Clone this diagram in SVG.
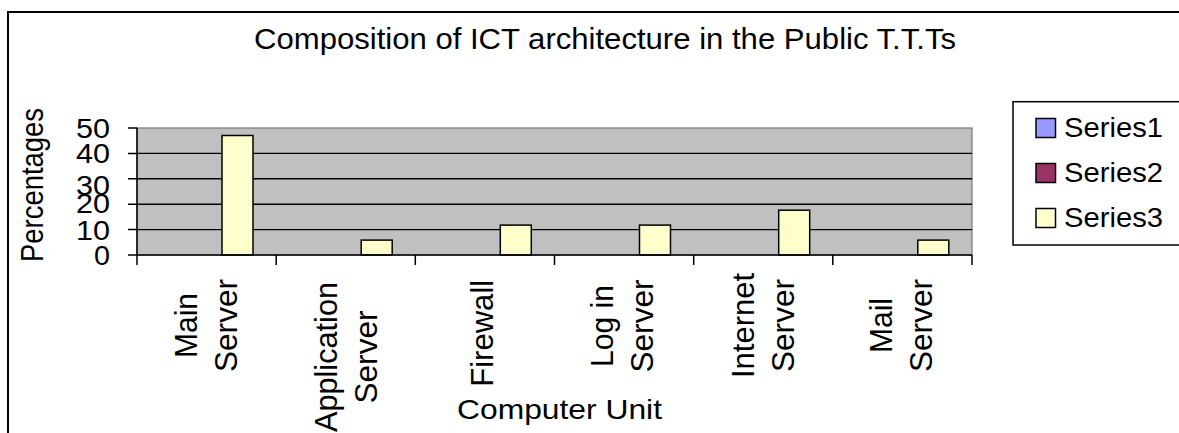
<svg xmlns="http://www.w3.org/2000/svg" width="1179" height="433" viewBox="0 0 1179 433">
<style>
text{font-family:"Liberation Sans",Arial,sans-serif;fill:#000}
.h{font-size:27px}
.r{font-size:32px;text-anchor:middle}
.grid{stroke:#000;stroke-width:1.4}
.tick{stroke:#000;stroke-width:1.5}
.bar{fill:#FFFFCC;stroke:#000;stroke-width:1.5}
.sw{stroke:#000;stroke-width:1.5}
</style>
<rect x="0" y="0" width="1179" height="433" fill="#fff"/>
<g id="frame"><path d="M1190,12 H8 V445" fill="none" stroke="#000" stroke-width="2"/></g>
<g id="title"><text x="605" y="49" text-anchor="middle" style="font-size:29px" textLength="702" lengthAdjust="spacingAndGlyphs">Composition of ICT architecture in the Public T.T.Ts</text></g>
<g id="plot">
<rect x="137" y="128" width="835" height="127" fill="#C0C0C0" stroke="#808080" stroke-width="1.3"/>
<line class="grid" x1="137" y1="153.4" x2="972" y2="153.4"/>
<line class="grid" x1="137" y1="178.8" x2="972" y2="178.8"/>
<line class="grid" x1="137" y1="204.2" x2="972" y2="204.2"/>
<line class="grid" x1="137" y1="229.6" x2="972" y2="229.6"/>
</g>
<g id="bars">
<rect class="bar" x="222" y="135.5" width="31" height="119.5"/>
<rect class="bar" x="361.2" y="240.1" width="31" height="14.9"/>
<rect class="bar" x="500.3" y="225.1" width="31" height="29.9"/>
<rect class="bar" x="639.5" y="225.1" width="31" height="29.9"/>
<rect class="bar" x="778.7" y="210.2" width="31" height="44.8"/>
<rect class="bar" x="917.8" y="240.1" width="31" height="14.9"/>
</g>
<g id="axes">
<line class="tick" x1="137" y1="128" x2="137" y2="255"/>
<line class="tick" x1="137" y1="255" x2="972" y2="255"/>
<path class="tick" fill="none" d="M128,128H137M128,153.4H137M128,178.8H137M128,204.2H137M128,229.6H137M128,255H137"/>
<path class="tick" fill="none" d="M137,255V265M276.2,255V265M415.3,255V265M554.5,255V265M693.7,255V265M832.8,255V265M972,255V265"/>
</g>
<g id="y-labels" text-anchor="end" style="font-size:28px">
<text x="110" y="138" textLength="34" lengthAdjust="spacingAndGlyphs">50</text>
<text x="110" y="163" textLength="34" lengthAdjust="spacingAndGlyphs">40</text>
<text x="110" y="195" textLength="34" lengthAdjust="spacingAndGlyphs">30</text>
<text x="110" y="213" textLength="34" lengthAdjust="spacingAndGlyphs">20</text>
<text x="110" y="240" textLength="34" lengthAdjust="spacingAndGlyphs">10</text>
<text x="110" y="265" textLength="16" lengthAdjust="spacingAndGlyphs">0</text>
</g>
<g id="y-title"><text transform="translate(43,185) rotate(-90)" style="font-size:31px;text-anchor:middle" textLength="154" lengthAdjust="spacingAndGlyphs">Percentages</text></g>
<g id="x-labels">
<text class="r" transform="translate(197,325.5) rotate(-90)" textLength="65" lengthAdjust="spacingAndGlyphs">Main</text>
<text class="r" transform="translate(237,325.5) rotate(-90)" textLength="93" lengthAdjust="spacingAndGlyphs">Server</text>
<text class="r" transform="translate(337,357) rotate(-90)" textLength="150" lengthAdjust="spacingAndGlyphs">Application</text>
<text class="r" transform="translate(377,357) rotate(-90)" textLength="93" lengthAdjust="spacingAndGlyphs">Server</text>
<text class="r" transform="translate(493,333.3) rotate(-90)" textLength="107" lengthAdjust="spacingAndGlyphs">Firewall</text>
<text class="r" transform="translate(613,326) rotate(-90)" textLength="82" lengthAdjust="spacingAndGlyphs">Log in</text>
<text class="r" transform="translate(653,326) rotate(-90)" textLength="93" lengthAdjust="spacingAndGlyphs">Server</text>
<text class="r" transform="translate(754,325.5) rotate(-90)" textLength="105" lengthAdjust="spacingAndGlyphs">Internet</text>
<text class="r" transform="translate(794,325.5) rotate(-90)" textLength="93" lengthAdjust="spacingAndGlyphs">Server</text>
<text class="r" transform="translate(892,325.5) rotate(-90)" textLength="55" lengthAdjust="spacingAndGlyphs">Mail</text>
<text class="r" transform="translate(932,325.5) rotate(-90)" textLength="93" lengthAdjust="spacingAndGlyphs">Server</text>
</g>
<g id="x-title"><text x="457" y="419" style="font-size:28px" textLength="205" lengthAdjust="spacingAndGlyphs">Computer Unit</text></g>
<g id="legend">
<rect x="1013" y="101.7" width="200" height="143.3" fill="#fff" stroke="#000" stroke-width="1.5"/>
<rect class="sw" x="1036" y="118.5" width="19.5" height="19" fill="#9999FF"/>
<rect class="sw" x="1036" y="163.5" width="19.5" height="19" fill="#993366"/>
<rect class="sw" x="1036" y="208.5" width="19.5" height="19" fill="#FFFFCC"/>
<text class="h" x="1064" y="137" textLength="99" lengthAdjust="spacingAndGlyphs">Series1</text>
<text class="h" x="1064" y="182" textLength="99" lengthAdjust="spacingAndGlyphs">Series2</text>
<text class="h" x="1064" y="227" textLength="99" lengthAdjust="spacingAndGlyphs">Series3</text>
</g>
</svg>
